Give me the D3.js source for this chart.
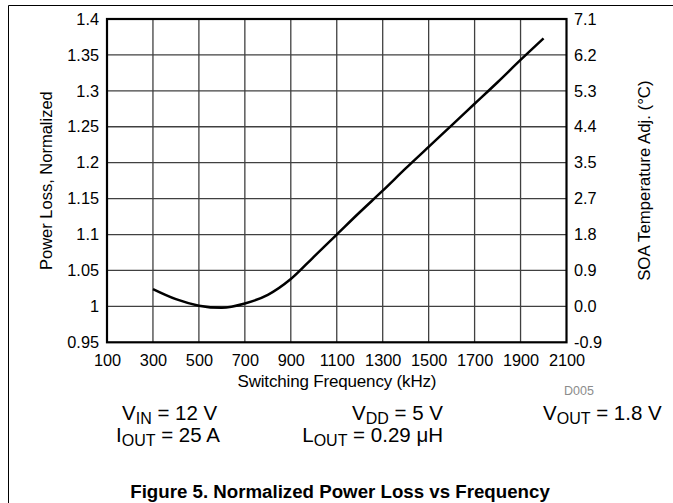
<!DOCTYPE html>
<html>
<head>
<meta charset="utf-8">
<script src="https://cdn.jsdelivr.net/npm/d3@7"></script>
<style>
  html, body { margin: 0; padding: 0; background: #fff; }
  svg { display: block; font-family: "Liberation Sans", Arial, sans-serif; }
</style>
</head>
<body>
<svg id="chart" width="673" height="503"></svg>
<script>
// ---- data ----
const freq = [300, 400, 500, 600, 700, 800, 900, 1000, 1100, 1200, 1300, 1400, 1500, 1600, 1700, 1800, 1900, 2000];
const powerLoss = [1.024, 1.010, 1.001, 0.998, 1.004, 1.016, 1.038, 1.069, 1.100, 1.131, 1.161, 1.192, 1.222, 1.252, 1.282, 1.312, 1.343, 1.373];
const xTicks = [100, 300, 500, 700, 900, 1100, 1300, 1500, 1700, 1900, 2100];
const yTicks = [0.95, 1, 1.05, 1.1, 1.15, 1.2, 1.25, 1.3, 1.35, 1.4];
const yTickLabels = ["0.95", "1", "1.05", "1.1", "1.15", "1.2", "1.25", "1.3", "1.35", "1.4"];
const rightTickLabels = ["-0.9", "0.0", "0.9", "1.8", "2.7", "3.5", "4.4", "5.3", "6.2", "7.1"];

const svg = d3.select("#chart");
const pL = 107, pT = 19, pR = 566.5, pB = 342.3;

const x = d3.scaleLinear().domain([100, 2100]).range([pL, pR]);
const y = d3.scaleLinear().domain([0.95, 1.4]).range([pB, pT]);

// outer figure border
svg.append("path").attr("d", `M8.5,503 V5.5 H673`).attr("fill", "none").attr("stroke", "#000").attr("stroke-width", 1);

// grid
const g = svg.append("g");
g.selectAll("line.vg").data(xTicks.slice(1, -1)).join("line")
  .attr("x1", d => x(d)).attr("x2", d => x(d)).attr("y1", pT).attr("y2", pB)
  .attr("stroke", "#404040").attr("stroke-width", 1.3);
g.selectAll("line.hg").data(yTicks.slice(1, -1)).join("line")
  .attr("y1", d => y(d)).attr("y2", d => y(d)).attr("x1", pL).attr("x2", pR)
  .attr("stroke", "#404040").attr("stroke-width", 1.3);

// axes (labels)
const fs = "16.3px";
const yAxisL = d3.axisLeft(y).tickValues(yTicks).tickSize(0).tickPadding(8)
  .tickFormat((d, i) => yTickLabels[i]);
const gl = svg.append("g").attr("transform", `translate(${pL},0)`).call(yAxisL);
gl.select(".domain").remove();
gl.selectAll("text").attr("font-size", fs).attr("font-family", "Liberation Sans, Arial, sans-serif").attr("fill", "#000");

const yAxisR = d3.axisRight(y).tickValues(yTicks).tickSize(0).tickPadding(7.5)
  .tickFormat((d, i) => rightTickLabels[i]);
const gr = svg.append("g").attr("transform", `translate(${pR},0)`).call(yAxisR);
gr.select(".domain").remove();
gr.selectAll("text").attr("font-size", fs).attr("font-family", "Liberation Sans, Arial, sans-serif").attr("fill", "#000");

const xAxis = d3.axisBottom(x).tickValues(xTicks).tickSize(0).tickPadding(12.5)
  .tickFormat(d3.format("d"));
const gx = svg.append("g").attr("transform", `translate(0,${pB})`).call(xAxis);
gx.select(".domain").remove();
gx.selectAll("text").attr("font-size", fs).attr("font-family", "Liberation Sans, Arial, sans-serif").attr("fill", "#000");

// frame
svg.append("rect").attr("x", pL).attr("y", pT).attr("width", pR - pL).attr("height", pB - pT)
  .attr("fill", "none").attr("stroke", "#000").attr("stroke-width", 2.2);

// curve
const line = d3.line().x((d, i) => x(freq[i])).y(d => y(d)).curve(d3.curveMonotoneX);
svg.append("path").datum(powerLoss).attr("d", line)
  .attr("fill", "none").attr("stroke", "#000").attr("stroke-width", 2.5);

// axis titles
svg.append("text").attr("x", 337).attr("y", 387).attr("text-anchor", "middle")
  .attr("font-size", "17px").attr("textLength", 199).text("Switching Frequency (kHz)");
svg.append("text").attr("transform", `translate(52,${(pT + pB) / 2}) rotate(-90)`).attr("text-anchor", "middle")
  .attr("font-size", "16.5px").text("Power Loss, Normalized");
svg.append("text").attr("transform", `translate(650,${(pT + pB) / 2}) rotate(-90)`).attr("text-anchor", "middle")
  .attr("font-size", "16.8px").text("SOA Temperature Adj. (°C)");

svg.append("text").attr("x", 564).attr("y", 395).attr("font-size", "12.5px").attr("fill", "#8c8c8c").text("D005");

// conditions
function cond(xp, yp, anchor, main, sub, rest) {
  const t = svg.append("text").attr("x", xp).attr("y", yp).attr("font-size", "20.5px").attr("text-anchor", anchor);
  t.append("tspan").text(main);
  t.append("tspan").attr("font-size", "16px").attr("dy", 3.5).text(sub);
  t.append("tspan").attr("dy", -3.5).text(rest);
}
cond(122, 420, "start", "V", "IN", " = 12 V");
cond(443, 420, "end", "V", "DD", " = 5 V");
cond(543, 420, "start", "V", "OUT", " = 1.8 V");
cond(116, 442, "start", "I", "OUT", " = 25 A");
cond(443, 442, "end", "L", "OUT", " = 0.29 μH");

svg.append("text").attr("x", 340).attr("y", 498).attr("text-anchor", "middle")
  .attr("font-size", "18.7px").attr("font-weight", "bold").text("Figure 5. Normalized Power Loss vs Frequency");
</script>
</body>
</html>
